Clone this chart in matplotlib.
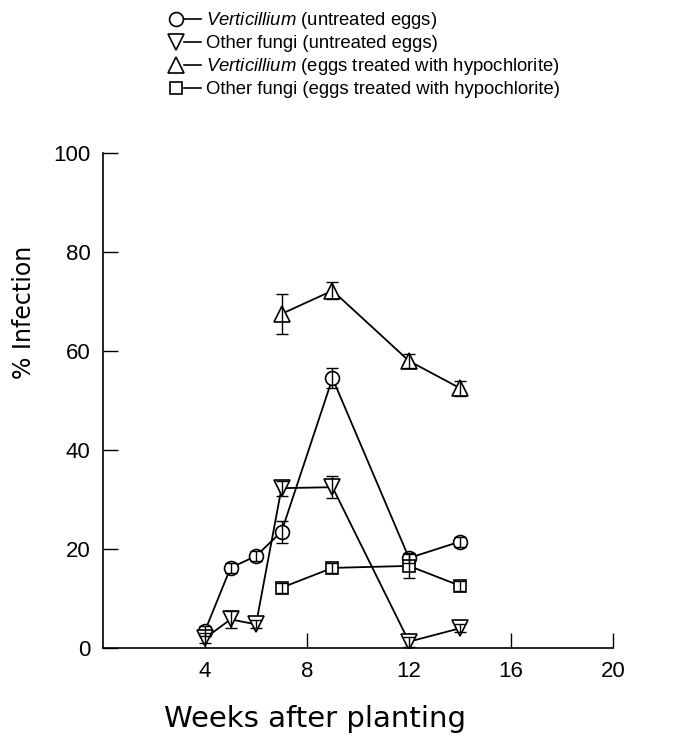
import matplotlib
matplotlib.use("Agg")
import matplotlib.pyplot as plt
from matplotlib.lines import Line2D
from matplotlib.legend_handler import HandlerTuple

plt.rcParams['font.family'] = ['Liberation Sans', 'DejaVu Sans']
plt.rcParams['mathtext.fontset'] = 'custom'
plt.rcParams['mathtext.it'] = 'Liberation Sans:italic'
plt.rcParams['mathtext.rm'] = 'Liberation Sans'

# Data
weeks_untreated = [4, 5, 6, 7, 9, 12, 14]
vert_untreated = [3.5, 16.2, 18.6, 23.5, 54.5, 18.2, 21.5]
vert_untreated_err = [1.0, 1.0, 1.0, 2.2, 2.0, 1.0, 1.0]
other_untreated = [2.0, 5.8, 4.8, 32.3, 32.5, 1.3, 4.0]
other_untreated_err = [1.0, 1.7, 0.8, 1.5, 2.2, 1.0, 0.8]

weeks_treated = [7, 9, 12, 14]
vert_treated = [67.5, 72.2, 58.0, 52.5]
vert_treated_err = [4.0, 1.7, 1.5, 1.5]
other_treated = [12.2, 16.2, 16.6, 12.6]
other_treated_err = [1.0, 1.0, 2.5, 1.0]

labels = [r'$\it{Verticillium}$ (untreated eggs)',
          'Other fungi (untreated eggs)',
          r'$\it{Verticillium}$ (eggs treated with hypochlorite)',
          'Other fungi (eggs treated with hypochlorite)']

xticks = [4, 8, 12, 16, 20]
yticks = [0, 20, 40, 60, 80, 100]

fig = plt.figure(figsize=(6.78, 7.39), dpi=100)
ax = fig.add_axes([0.152, 0.123, 0.752, 0.670])

series = [
    (weeks_untreated, vert_untreated, vert_untreated_err, 'o', 10),
    (weeks_untreated, other_untreated, other_untreated_err, 'v', 11),
    (weeks_treated, vert_treated, vert_treated_err, '^', 11),
    (weeks_treated, other_treated, other_treated_err, 's', 9),
]

handles = []
for x, y, e, m, ms in series:
    ax.plot(x, y, color='black', lw=1.3, zorder=1)
    ax.plot(x, y, linestyle='none', marker=m, ms=ms, mfc='white',
            mec='black', mew=1.2, zorder=2)
    ax.errorbar(x, y, yerr=e, fmt='none', ecolor='black', elinewidth=1.0,
                capsize=4, capthick=1.0, zorder=3)
    hm = Line2D([], [], linestyle='none', marker=m, ms=ms, mfc='white',
                mec='black', mew=1.2)
    hl = Line2D([], [], color='black', lw=1.2)
    handles.append((hm, hl))

ax.set_xlim(0, 20)
ax.set_ylim(0, 100)
ax.set_xticks(xticks)
ax.set_yticks(yticks)
ax.spines['top'].set_visible(False)
ax.spines['right'].set_visible(False)
ax.spines['left'].set_linewidth(1.2)
ax.spines['bottom'].set_linewidth(1.2)
ax.tick_params(axis='both', direction='in', length=11, width=1.0,
               labelsize=16, pad=9)

ax.set_ylabel('% Infection', fontsize=17, family='DejaVu Sans')
ax.yaxis.set_label_coords(-0.131, 0.679)
ax.set_xlabel('Weeks after planting', fontsize=21, family='DejaVu Sans')
ax.xaxis.set_label_coords(0.416, -0.115)

fig.legend(handles, labels, loc='upper left',
           bbox_to_anchor=(0.232, 1.0), frameon=False, fontsize=13.3,
           handler_map={tuple: HandlerTuple(ndivide=None, pad=0.0)},
           handlelength=1.8, handletextpad=0.3, labelspacing=0.22,
           borderaxespad=0.15)

fig.savefig('out.png', dpi=100)
